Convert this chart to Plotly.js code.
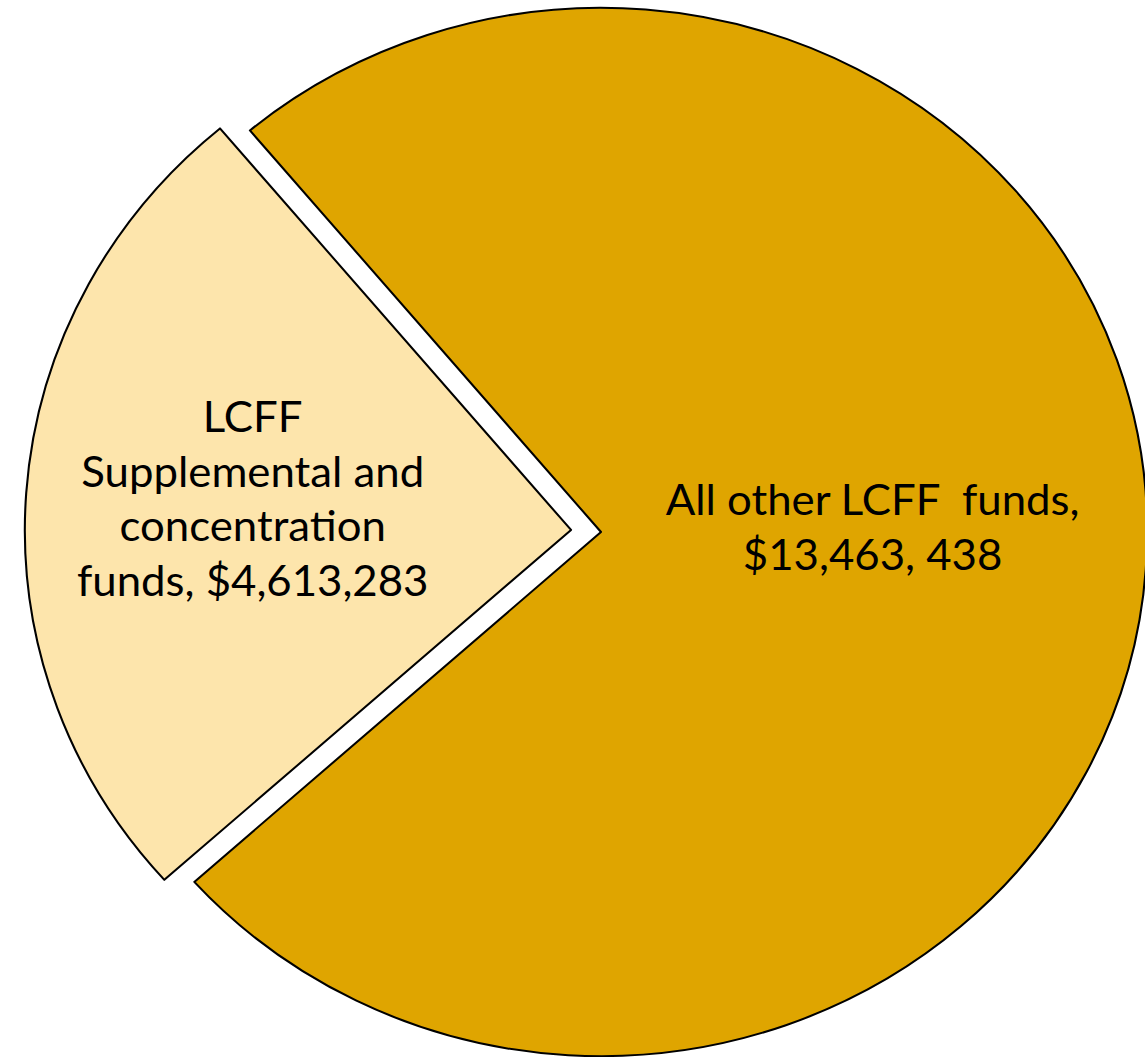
<!DOCTYPE html>
<html>
<head>
<meta charset="utf-8">
<script src="https://cdn.plot.ly/plotly-3.0.1.min.js"></script>
<style>
  html, body { margin: 0; padding: 0; background: #fff; overflow: hidden; width: 1145px; height: 1057px; }
  #chart { position: absolute; left: -4px; top: -21px; width: 1210px; height: 1106px;
           transform: scaleX(1.042); transform-origin: 605px 0; }
</style>
</head>
<body>
<div id="chart"></div>
<script>
// Data
const labels = ["All other LCFF funds", "LCFF Supplemental and concentration funds"];
const values = [13463438, 4613283];
const sliceText = ["All other LCFF  funds,<br>$13,463, 438", "LCFF<br>Supplemental and<br>concentration<br>funds, $4,613,283"];
const sliceColors = ["#DFA500", "#FDE5AC"];
const pulls = [0, 0.055];
const labelPos = [[0.715, 0.505], [0.224, 0.531]];

const trace = {
  type: "pie",
  labels: labels,
  values: values,
  textinfo: "none",
  sort: false,
  direction: "clockwise",
  rotation: -40,
  pull: pulls,
  marker: { colors: sliceColors, line: { color: "#000", width: 2 } },
  hoverinfo: "none",
  domain: { x: [0, 1], y: [0, 1] }
};

const annotations = sliceText.map((t, i) => ({
  xref: "paper", yref: "paper",
  x: labelPos[i][0], y: labelPos[i][1],
  xanchor: "center", yanchor: "middle",
  text: t, showarrow: false, align: "center",
  font: { family: "Lato, 'Open Sans', sans-serif", size: 42, color: "#000" }
}));

const layout = {
  width: 1210,
  height: 1106,
  margin: { l: 0, r: 0, t: 0, b: 0, pad: 0 },
  showlegend: false,
  paper_bgcolor: "#fff",
  plot_bgcolor: "#fff",
  font: { family: "Lato, 'Open Sans', sans-serif" },
  annotations: annotations
};

Plotly.newPlot("chart", [trace], layout, { displayModeBar: false, staticPlot: true });
</script>
</body>
</html>
